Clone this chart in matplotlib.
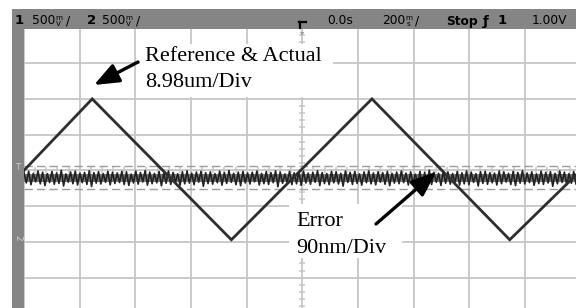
import numpy as np
import matplotlib
matplotlib.use("Agg")
import matplotlib.pyplot as plt
from matplotlib.patches import Rectangle
from matplotlib.lines import Line2D

# ---------------- data (scope: 200 ms/div, 500 mV/div) ----------------
ref_time_s = [-1.0, -0.755, -0.255, 0.25, 0.745, 1.0]
ref_volt_v = [0.0, 1.0, -0.97, 1.0, -0.97, 0.0]

err_hi_mv = [-30, -12, -40, -8, -25, -45, -15, -35, 2, -50, -22, -10, -38, -28, -5, -32, -18, -44, -12, -26,
             -36, -14, -20, -52, -10, -30, -4, -24, -42, -16, -34, -8, -28, -48, -18, -6, -38, -22, -12, -32,
             -20, -46, -10, -30, -2, -40, -24, -14, -36, -26, -8, -42, -16, -30, -6, -22, -50, -12, -34, -18,
             -10, -38, -28, -4, -30, -44, -14, -20, -40, -8, -26, -16, -48, -22, -6, -36, -18, -32, -12, -42,
             -24, -8, -38, -20, -52, -14, -28, 4, -26, -40, -10, -22, -44, -16, -34, -6, -24, -46, -18, -12,
             -32, -38, -8, -22, -42, -14, -30, -2, -36, -20, -48, -10, -28, -18, -40, -8, -24, -44, -16, -26]
err_lo_mv = [-175, -200, -160, -188, -212, -170, -194, -182, -218, -165, -186, -204, -172, -196, -225, -178, -190, -166, -202, -184,
             -170, -198, -210, -176, -192, -162, -206, -186, -174, -216, -180, -196, -168, -208, -188, -178, -200, -164, -222, -184,
             -192, -172, -206, -182, -168, -200, -214, -176, -190, -160, -204, -186, -196, -172, -228, -180, -170, -198, -188, -208,
             -176, -194, -166, -212, -184, -200, -174, -190, -220, -168, -196, -182, -206, -172, -188, -202, -164, -194, -214, -178,
             -186, -170, -204, -192, -176, -226, -184, -198, -166, -210, -180, -192, -172, -206, -188, -200, -168, -218, -182, -194,
             -174, -204, -186, -162, -198, -212, -178, -190, -170, -208, -184, -196, -176, -222, -188, -168, -202, -180, -194, -174]
# dense core of the error band (mV)
err_core_mv = [-45, -160]

cursor_levels_v = [0.055, -0.26]

label_ref = ["Reference & Actual", "8.98um/Div"]
label_err = ["Error", "90nm/Div"]

# ---------------- figure ----------------
W, H = 576, 308
fig = plt.figure(figsize=(W / 100, H / 100), dpi=100)
fig.patch.set_facecolor("white")


def fx(x):
    return x / W


def fy(y):
    return 1 - y / H


x0, x1 = 24.0, 580.7
y0, y1 = 27.4, 313.4
ax = fig.add_axes([fx(x0), fy(y1), (x1 - x0) / W, (y1 - y0) / H])
ax.set_xlim(-1.0, 1.0)
ax.set_ylim(-2.0, 2.0)
ax.set_xticks(np.arange(-1.0, 1.001, 0.2))
ax.set_yticks(np.arange(-2.0, 2.001, 0.5))
ax.set_axisbelow(True)
ax.grid(True, color="#c6c6c6", lw=1.3)
ax.tick_params(length=0, labelbottom=False, labelleft=False)
for s in ax.spines.values():
    s.set_visible(False)

# center-axis minor ticks
yt = np.arange(-2.0, 2.001, 0.1)
ax.hlines(yt, -0.011, 0.011, color="#c6c6c6", lw=1.1, zorder=1)
xt = np.arange(-1.0, 1.001, 0.04)
ax.vlines(xt, -0.042, 0.042, color="#c6c6c6", lw=1.1, zorder=1)

# cursor (dashed) lines
for lv in cursor_levels_v:
    ax.axhline(lv, color="#9c9c9c", lw=1.0, dashes=(6, 3), zorder=1.5)

# error trace
err_v = np.column_stack([err_hi_mv, err_lo_mv]).ravel() / 1000.0
t_err = np.linspace(-1.0, 1.0, len(err_v))
ax.axhspan(err_core_mv[1] / 1000.0, err_core_mv[0] / 1000.0,
           color="#7c7c7c", lw=0, zorder=2.9)
ax.plot(t_err, err_v, color="#222222", lw=1.2, zorder=3)

# reference & actual triangle
ax.plot(ref_time_s, ref_volt_v, color="#2e2e2e", lw=2.0, zorder=4,
        solid_joinstyle="miter")

# white boxes behind labels
ax.add_artist(Rectangle((fx(140), fy(97)), (333 - 140) / W, (97 - 44) / H,
                        transform=fig.transFigure, facecolor="white",
                        edgecolor="none", zorder=2.5))
ax.add_artist(Rectangle((fx(289), fy(258)), (402 - 289) / W, (258 - 204) / H,
                        transform=fig.transFigure, facecolor="white",
                        edgecolor="none", zorder=2.5))

serif = "Liberation Serif"
for (x, yb), s in zip([(145, 61), (145, 86.5)], label_ref):
    fig.text(fx(x), fy(yb), s, family=serif, fontsize=16, ha="left",
             va="baseline", zorder=6)
for (x, yb), s in zip([(296, 226), (296, 253)], label_err):
    fig.text(fx(x), fy(yb), s, family=serif, fontsize=16, ha="left",
             va="baseline", zorder=6)

# arrows
ap = dict(arrowstyle="-|>,head_length=1.5,head_width=0.6", color="black",
          lw=2.4, shrinkA=0, shrinkB=0, mutation_scale=10)
ax.annotate("", xy=(94, H - 85), xytext=(138, H - 62),
            xycoords="figure pixels", textcoords="figure pixels",
            arrowprops=ap, zorder=7)
ax.annotate("", xy=(436, H - 172), xytext=(376, H - 224),
            xycoords="figure pixels", textcoords="figure pixels",
            arrowprops=ap, zorder=7)

# ---------------- scope chrome ----------------
gray = "#858585"
fig.add_artist(Rectangle((fx(12), fy(29.3)), (W - 12) / W, (29.3 - 9) / H,
                         transform=fig.transFigure, facecolor=gray,
                         edgecolor="none", zorder=10))
fig.add_artist(Rectangle((fx(12), 0), 12 / W, fy(9), transform=fig.transFigure,
                         facecolor=gray, edgecolor="none", zorder=10))

fs = 8.8
ty = fy(21)


def t(x, s, **kw):
    fig.text(fx(x), ty, s, fontsize=kw.pop("fontsize", fs), ha="left",
             va="center", color="black", zorder=11, **kw)


def stacked(x, top, bot):
    fig.text(fx(x), fy(17.5), top, fontsize=5.2, ha="left", va="center", zorder=11)
    fig.text(fx(x + 0.8), fy(24.5), bot, fontsize=5.2, ha="left", va="center", zorder=11)


t(15, "1", weight="bold", fontsize=9.5)
t(32, "500")
stacked(55.5, "m", "V")
t(66, "/")
t(87, "2", weight="bold", fontsize=9.5)
t(102, "500")
stacked(125.5, "m", "V")
t(136, "/")
# trigger position icon
fig.add_artist(Line2D([fx(298.5), fx(306)], [fy(21.5), fy(21.5)], color="black",
                      lw=1.6, transform=fig.transFigure, zorder=11))
fig.add_artist(Line2D([fx(300), fx(300)], [fy(21.5), fy(27.5)], color="black",
                      lw=1.6, transform=fig.transFigure, zorder=11))
t(327, "0.0s")
t(382, "200")
stacked(405.5, "m", "s")
t(415, "/")
t(446, "Stop", weight="bold")
t(483, "\u0192", weight="bold", fontsize=9.5)
t(498, "1", weight="bold", fontsize=9.5)
t(532, "1.00V")

# trigger marker below top bar and left-strip markers
fig.text(fx(302), fy(33), "\u25BE", fontsize=6, color="#9a9a9a", ha="center",
         va="center", zorder=11)
fig.text(fx(18), fy(167), "T", fontsize=6.5, color="#c8c8c8", ha="center",
         va="center", zorder=11)
fig.text(fx(18), fy(238), "2", fontsize=6.5, color="#d0d0d0", ha="center",
         va="center", zorder=11, rotation=-90)

fig.savefig("out.png", dpi=100, facecolor="white")
